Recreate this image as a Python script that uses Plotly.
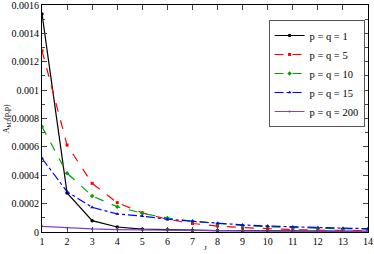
import plotly.graph_objects as go

J = list(range(1, 15))
pq1 = [0.001537, 0.000275, 0.00008, 0.000035, 0.00002, 0.000015, 0.000012, 0.00001, 0.000009, 0.000008, 0.000007, 0.000006, 0.000006, 0.000005]
pq5 = [0.001278, 0.000613, 0.000343, 0.000207, 0.000135, 0.00009, 0.00006, 0.000042, 0.000031, 0.000022, 0.000017, 0.000013, 0.000011, 0.00001]
pq10 = [0.000742, 0.000414, 0.000254, 0.000178, 0.000132, 0.000098, 0.000076, 0.000058, 0.000045, 0.000037, 0.00003, 0.000026, 0.000023, 0.00002]
pq15 = [0.000519, 0.000284, 0.000174, 0.000127, 0.000112, 0.00009, 0.000075, 0.00006, 0.00005, 0.000042, 0.000036, 0.000031, 0.000027, 0.000024]
pq200 = [0.00004, 0.00003, 0.000022, 0.000017, 0.000014, 0.000012, 0.00001, 0.000009, 0.000008, 0.000007, 0.000006, 0.000006, 0.000005, 0.000005]

names = ["p = q = 1", "p = q = 5", "p = q = 10", "p = q = 15", "p = q = 200"]
colors = ["black", "#ff0000", "#00a000", "#0000ff", "#7f40d8"]
dashes = ["solid", "dash", "dash", "dashdot", "solid"]
symbols = ["circle", "square", "diamond", "triangle-up", "circle"]
msizes = [3.5, 3, 3.5, 3.5, 2]

yticks = [0, 0.0002, 0.0004, 0.0006, 0.0008, 0.001, 0.0012, 0.0014, 0.0016]
yticktext = ["0", "0.0002", "0.0004", "0.0006", "0.0008", "0.001", "0.0012", "0.0014", "0.0016"]
xtitle = "J"
ytitle = "A<sub>M3</sub>(p,p)"

fig = go.Figure()
for ys, n, c, d, s, m in zip([pq1, pq5, pq10, pq15, pq200], names, colors, dashes, symbols, msizes):
    fig.add_trace(go.Scatter(x=J, y=ys, name=n, mode="lines+markers",
                             line=dict(color=c, dash=d, width=1.2),
                             marker=dict(symbol=s, size=m, color=c, line=dict(width=0))))

font = "Liberation Serif, Times New Roman, serif"
fig.update_layout(
    width=374, height=254,
    margin=dict(l=42, r=6, t=5, b=22),
    paper_bgcolor="white", plot_bgcolor="white",
    font=dict(family=font, size=10, color="black"),
    showlegend=True,
    legend=dict(x=0.695, y=0.934, xanchor="left", yanchor="top",
                bordercolor="#555555", borderwidth=1, bgcolor="white",
                font=dict(family=font, size=10.5), tracegroupgap=0, itemwidth=30),
    annotations=[
        dict(text=xtitle, xref="paper", yref="paper", x=0.5, y=-0.0969, yanchor="bottom",
             showarrow=False, font=dict(family=font, size=7)),
        dict(text=ytitle, xref="paper", yref="paper", x=-0.108, y=0.5, xanchor="center",
             yanchor="middle", textangle=-90, showarrow=False, font=dict(family=font, size=8)),
    ],
)
fig.update_xaxes(range=[1, 14], tickvals=J, ticks="inside", ticklen=5, mirror="allticks",
                 showline=True, linecolor="black", linewidth=1, showgrid=False, zeroline=False,
                 tickfont=dict(family=font, size=10), automargin=False,
                 ticklabeloverflow="allow")
fig.update_yaxes(range=[0, 0.0016], tickvals=yticks, ticktext=yticktext, ticks="inside", ticklen=5,
                 mirror="allticks", showline=True, linecolor="black", linewidth=1,
                 showgrid=False, zeroline=False, automargin=False,
                 minor=dict(ticks="inside", ticklen=3, dtick=0.0001, showgrid=False),
                 tickfont=dict(family=font, size=10), ticklabeloverflow="allow")
fig.write_html("out.html", config={"displayModeBar": False},
               post_script="document.body.style.margin='0';")
